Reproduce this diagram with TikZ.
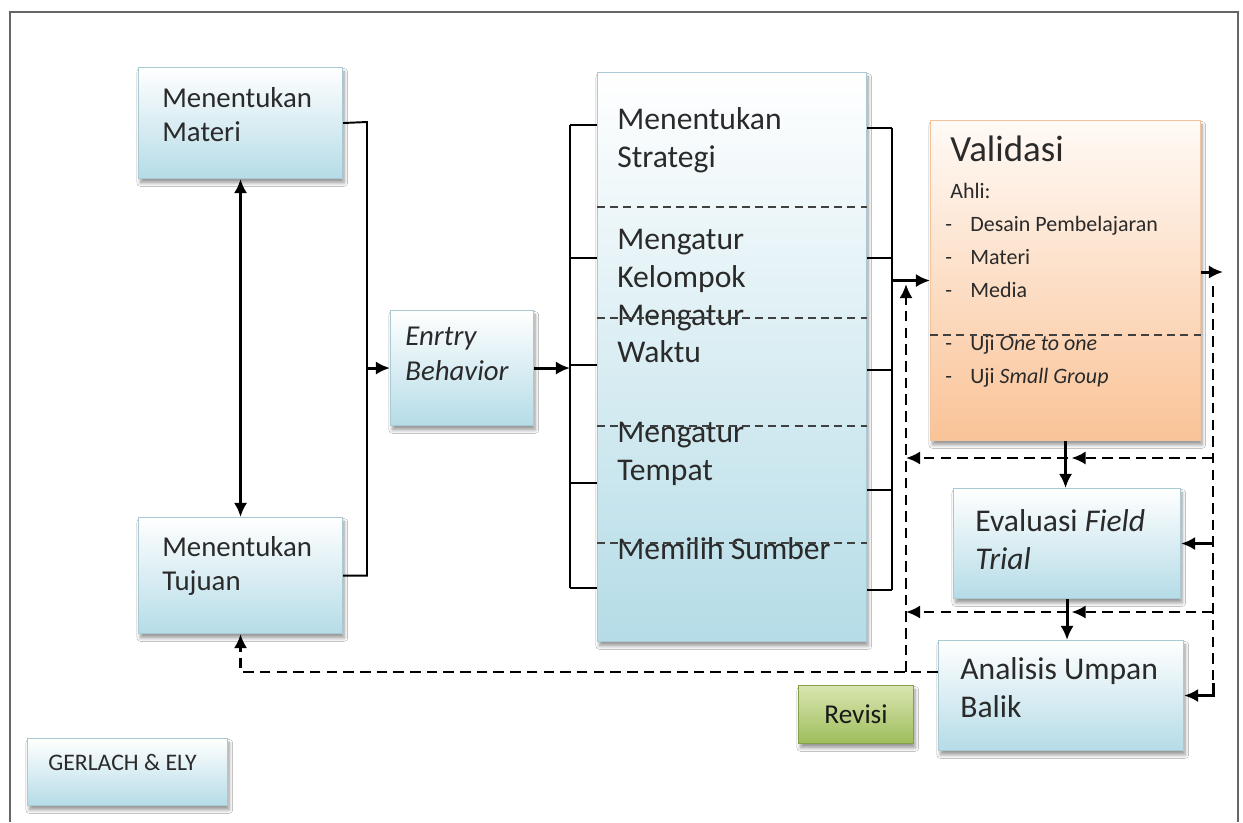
\documentclass[tikz,border=0pt]{standalone}
\usepackage{fontspec}
\setmainfont{Carlito}
\usetikzlibrary{arrows.meta,shadows.blur}

\newcommand{\pxl}[1]{#1*0.02cm}

\definecolor{boxblue}{HTML}{B5DCE7}
\definecolor{boxedge}{HTML}{A9C9D4}
\definecolor{valtop}{HTML}{FFFAF6}
\definecolor{valorange}{HTML}{FAC397}
\definecolor{valedge}{HTML}{F1C49E}
\definecolor{revtop}{HTML}{D9E6B0}
\definecolor{revgreen}{HTML}{9EBD5C}
\definecolor{revedge}{HTML}{84A04C}
\definecolor{txtgray}{HTML}{2A2A2A}

\tikzset{
  outerframe/.style={draw=black!60, line width=1.2pt},
  panel/.style={anchor=north west, inner sep=0pt, draw=boxedge, line width=0.6pt,
    top color=white, bottom color=boxblue,
    blur shadow={shadow xshift=1pt, shadow yshift=-2.5pt, shadow blur steps=5, shadow opacity=40}},
  valpanel/.style={panel, draw=valedge, top color=valtop, bottom color=valorange},
  revpanel/.style={panel, draw=revedge, top color=revtop, bottom color=revgreen,
    text=black!90, font=\fontsize{15.5}{18}\selectfont},
  boxtext/.style={anchor=north west, align=left, inner sep=0pt, text=txtgray,
    font=\fontsize{16.4}{19.5}\selectfont},
  bigtext/.style={boxtext, font=\fontsize{18}{21.5}\selectfont},
  smalltext/.style={boxtext, font=\fontsize{12.5}{18.7}\selectfont},
  >={Latex[length=8pt,width=7.5pt]},
  link/.style={->, line width=1.7pt},
  feed/.style={link, dash pattern=on 6pt off 3.5pt, line width=1.5pt},
  bracketline/.style={line width=1.1pt},
  divider/.style={dash pattern=on 4.5pt off 3pt, line width=0.8pt, draw=black!75},
}

\begin{document}
\begin{tikzpicture}[x=0.02cm, y=-0.02cm]
  % white canvas and the outer frame
  \fill[white] (0,0) rectangle (1243,822);
  \useasboundingbox (0,0) rectangle (1243,822);
  \draw[outerframe] (10,822) |- (1238,12) -- (1238,822);

  % left column
  \node[panel, minimum width=\pxl{204}, minimum height=\pxl{111}] (mat) at (138,67) {};
  \node[boxtext] (matT) at ([shift={(24,20)}]mat.north west) {Menentukan\\Materi};
  \node[panel, minimum width=\pxl{204}, minimum height=\pxl{116}] (tuj) at (138,517) {};
  \node[boxtext] (tujT) at ([shift={(24,19)}]tuj.north west) {Menentukan\\Tujuan};
  \node[panel, minimum width=\pxl{200}, minimum height=\pxl{67}] (ge) at (27,738) {};
  \node[smalltext, font=\fontsize{13.5}{16}\selectfont] (geT) at ([shift={(21,16)}]ge.north west) {GERLACH \& ELY};

  % entry behavior
  \node[panel, minimum width=\pxl{143}, minimum height=\pxl{115}] (ent) at (390,310) {};
  \node[boxtext, font=\fontsize{16.4}{19.5}\selectfont\itshape] (entT) at ([shift={(15,17)}]ent.north west) {Enrtry\\Behavior};

  % big box with the five steps
  \node[panel, minimum width=\pxl{269}, minimum height=\pxl{569}] (big) at (597,72) {};
  \node[bigtext] (strT) at ([shift={(20,35)}]big.north west) {Menentukan\\Strategi};
  \node[bigtext] (kelT) at ([shift={(20,157)}]big.north west) {Mengatur\\Kelompok\\Mengatur\\Waktu};
  \node[bigtext] (temT) at ([shift={(20,350)}]big.north west) {Mengatur\\Tempat};
  \node[bigtext] (sumT) at ([shift={(20,465)}]big.north west) {Memilih Sumber};
  \foreach \y in {207,318,426,543}
    \draw[divider] (big.west |- 0,\y) -- (big.east |- 0,\y);

  % validasi
  \node[valpanel, minimum width=\pxl{270}, minimum height=\pxl{320}] (val) at (930,120) {};
  \node[boxtext, font=\fontsize{21}{25}\selectfont] (valT) at ([shift={(20,16)}]val.north west) {Validasi};
  \node[smalltext] (ahli) at ([shift={(20,63)}]val.north west) {Ahli:};
  \node[smalltext] (expT) at ([shift={(15,96)}]val.north west)
    {\makebox[0.5cm][l]{-}Desain Pembelajaran\\\makebox[0.5cm][l]{-}Materi\\\makebox[0.5cm][l]{-}Media};
  \node[smalltext] (ujiT) at ([shift={(15,215)}]val.north west)
    {\makebox[0.5cm][l]{-}Uji \textit{One to one}\\\makebox[0.5cm][l]{-}Uji \textit{Small Group}};
  \draw[divider, line width=1pt] (val.west |- 0,335) -- (val.east |- 0,335);

  % evaluasi, analisis, revisi
  \node[panel, minimum width=\pxl{227}, minimum height=\pxl{110}] (eva) at (953,488) {};
  \node[bigtext] (evaT) at ([shift={(22,21)}]eva.north west) {Evaluasi \textit{Field}\\\textit{Trial}};
  \node[panel, minimum width=\pxl{245}, minimum height=\pxl{110}] (ana) at (938,640) {};
  \node[bigtext] (anaT) at ([shift={(22,17)}]ana.north west) {Analisis Umpan\\Balik};
  \node[revpanel, minimum width=\pxl{115}, minimum height=\pxl{58}] (rev) at (798,685) {Revisi};

  % brackets and solid arrows
  \coordinate (brA) at (367,122);
  \coordinate (brB) at (570,125);
  \coordinate (brC) at (892,128);
  \draw[link, <->] (mat.south) -- (tuj.north);
  \draw[bracketline] (mat.east) -- (brA) |- (tuj.east);
  \draw[link] (brA |- ent.west) -- (ent.west);
  \draw[link] (ent.east) -- (brB |- ent.east);
  \draw[bracketline] (brB) -- (570,588);
  \foreach \y in {125,258,365,483,588}
    \draw[bracketline] (brB |- 0,\y) -- (big.west |- 0,\y);
  \draw[bracketline] (brC) -- (892,590);
  \foreach \y in {128,258,370,490,590}
    \draw[bracketline] (big.east |- 0,\y) -- (brC |- 0,\y);
  \draw[link] (brC |- val.west) -- (val.west);
  \draw[link] (val.south) -- (val.south |- eva.north);
  \draw[link] (eva.south) -- (eva.south |- ana.north);

  % feedback lines
  \coordinate (fbL) at (906,672);
  \coordinate (fbR) at (1213,286);
  \coordinate (fbRb) at (1213,683);
  \coordinate (vOut) at (1223,272);
  \coordinate (m1) at (1068,458);
  \coordinate (m2) at (1068,612);
  \draw[feed] (ana.west |- fbL) -| (tuj.south);
  \draw[feed, shorten >=2pt] (fbL) -- (fbL |- val.west);
  \draw[link] (val.east |- vOut) -- (vOut);
  \draw[feed, -] (fbR) -- (fbRb);
  \draw[link] (fbRb) |- (ana.east);
  \draw[link] (fbR |- eva.east) -- (eva.east);
  \draw[feed] (fbR |- m1) -- ([xshift=2pt]m1);
  \draw[feed] (m1) -- (fbL |- m1);
  \draw[feed] (fbR |- m2) -- ([xshift=2pt]m2);
  \draw[feed] (m2) -- (fbL |- m2);
\end{tikzpicture}
\end{document}
